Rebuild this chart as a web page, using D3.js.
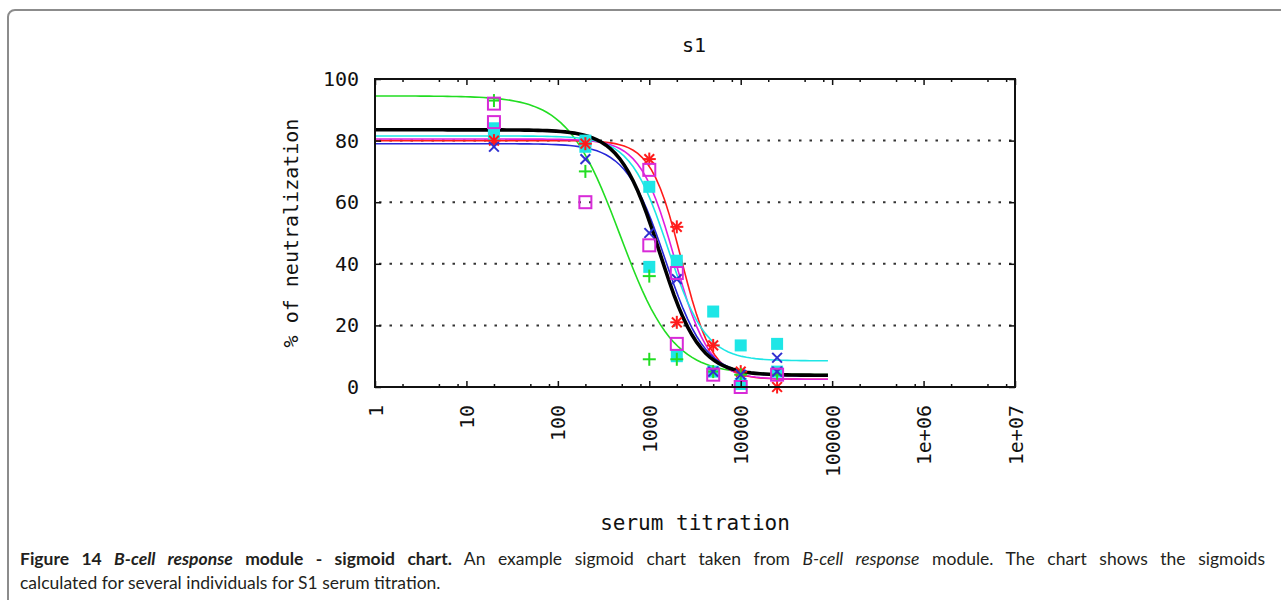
<!DOCTYPE html>
<html>
<head>
<meta charset="utf-8">
<script src="https://cdn.jsdelivr.net/npm/d3@7"></script>
<style>
  html, body { margin: 0; padding: 0; background: #fff; }
  svg { display: block; }
</style>
</head>
<body>
<svg id="chart" width="1281" height="600"></svg>
<script>
// Serum dilutions at which neutralization was measured
const titrations = [20, 200, 1000, 2000, 5000, 10000, 25000];

// Measured % neutralization per individual (two replicates where available)
const redPoints = [[20, 80], [200, 79], [1000, 74], [2000, 52], [2000, 21], [5000, 13.5], [10000, 5], [25000, 0]];
const greenPoints = [[20, 93], [200, 70], [1000, 36], [1000, 9], [2000, 9], [5000, 5], [10000, 4], [25000, 4]];
const bluePoints = [[20, 78], [200, 74], [1000, 50], [2000, 35], [5000, 5], [10000, 4], [25000, 9.5], [25000, 5]];
const magentaPoints = [[20, 92], [20, 86], [200, 60], [1000, 70.5], [1000, 46], [2000, 37], [2000, 14], [5000, 4], [10000, 0], [25000, 4]];
const cyanPoints = [[20, 84], [20, 82], [200, 80], [200, 78], [1000, 65], [1000, 39], [2000, 41], [2000, 10], [5000, 24.5], [5000, 5], [10000, 13.5], [10000, 1], [25000, 14], [25000, 5]];

// Fitted sigmoid parameters: [top, bottom, EC50, Hill slope]
const redFit = [80, 2.5, 2250, 2.6];
const greenFit = [94.5, 4, 480, 1.5];
const blueFit = [79, 3.5, 1500, 2.0];
const magentaFit = [80.5, 2.5, 1900, 2.3];
const cyanFit = [81.5, 8.5, 1600, 2.1];
const meanFit = [83.5, 3.8, 1300, 2.0];

// Axis ticks
const xTickValues = [1, 10, 100, 1000, 10000, 100000, 1e6, 1e7];
const xTickLabels = ["1", "10", "100", "1000", "10000", "100000", "1e+06", "1e+07"];
const yTickValues = [0, 20, 40, 60, 80, 100];
const yGridValues = [20, 40, 60, 80];

const svg = d3.select("#chart");
const monoFont = "'DejaVu Sans Mono', monospace";

// Outer figure frame
svg.append("rect")
  .attr("x", 8).attr("y", 10)
  .attr("width", 1320).attr("height", 640)
  .attr("rx", 7).attr("ry", 7)
  .attr("fill", "none")
  .attr("stroke", "#8c8c8c")
  .attr("stroke-width", 2);

const plot = { left: 375, right: 1015, top: 79, bottom: 387 };

const x = d3.scaleLog().domain([1, 1e7]).range([plot.left, plot.right]);
const y = d3.scaleLinear().domain([0, 100]).range([plot.bottom, plot.top]);

// Minor log ticks inside each decade
const minorTicks = [];
for (let d = 1; d < 1e7; d *= 10) {
  [2, 5, 8].forEach(m => minorTicks.push(d * m));
}

// Dotted horizontal grid
svg.append("g")
  .selectAll("line")
  .data(yGridValues)
  .join("line")
  .attr("x1", plot.left + 4).attr("x2", plot.right)
  .attr("y1", d => y(d)).attr("y2", d => y(d))
  .attr("stroke", "#333")
  .attr("stroke-width", 2)
  .attr("stroke-dasharray", "2.5,8");

// Sigmoid curves
function sigmoid(p) {
  const [top, bottom, ec50, hill] = p;
  return v => bottom + (top - bottom) / (1 + Math.pow(v / ec50, hill));
}
const curveX = d3.range(0, 101).map(i => Math.pow(10, i * Math.log10(90000) / 100));
const line = d3.line().x(d => x(d[0])).y(d => y(d[1]));

svg.append("clipPath").attr("id", "plotclip")
  .append("rect")
  .attr("x", plot.left - 4).attr("y", plot.top)
  .attr("width", plot.right - plot.left + 4).attr("height", plot.bottom - plot.top + 8);

const curves = [
  { fit: greenFit, color: "#22dd22", width: 1.6 },
  { fit: redFit, color: "#ff1a1a", width: 1.6 },
  { fit: magentaFit, color: "#e01ee0", width: 1.6 },
  { fit: cyanFit, color: "#1ee6e6", width: 1.6 },
  { fit: blueFit, color: "#2727d8", width: 1.6 },
];

const curveLayer = svg.append("g").attr("clip-path", "url(#plotclip)");
curves.forEach(c => {
  const f = sigmoid(c.fit);
  curveLayer.append("path")
    .attr("d", line(curveX.map(v => [v, f(v)])))
    .attr("fill", "none")
    .attr("stroke", c.color)
    .attr("stroke-width", c.width);
});

// Point markers
const ms = 6.5;
const markers = svg.append("g");
function drawPoints(data, color, kind) {
  const g = markers.append("g").attr("stroke", color).attr("stroke-width", 2).attr("fill", "none");
  data.forEach(([tv, pv]) => {
    const cx = x(tv), cy = y(pv);
    if (kind === "plus" || kind === "star") {
      g.append("line").attr("x1", cx - ms).attr("x2", cx + ms).attr("y1", cy).attr("y2", cy);
      g.append("line").attr("x1", cx).attr("x2", cx).attr("y1", cy - ms).attr("y2", cy + ms);
    }
    if (kind === "cross" || kind === "star") {
      const k = ms * 0.75;
      g.append("line").attr("x1", cx - k).attr("x2", cx + k).attr("y1", cy - k).attr("y2", cy + k);
      g.append("line").attr("x1", cx - k).attr("x2", cx + k).attr("y1", cy + k).attr("y2", cy - k);
    }
    if (kind === "box") {
      g.append("rect").attr("x", cx - 6).attr("y", cy - 6).attr("width", 12).attr("height", 12);
    }
    if (kind === "fbox") {
      g.append("rect").attr("x", cx - 6).attr("y", cy - 6).attr("width", 12).attr("height", 12)
        .attr("fill", color).attr("stroke", "none");
    }
  });
}
drawPoints(cyanPoints, "#1ee6e6", "fbox");
drawPoints(redPoints, "#ff1a1a", "star");
drawPoints(greenPoints, "#22dd22", "plus");
drawPoints(bluePoints, "#2f2fd0", "cross");
drawPoints(magentaPoints, "#d82ad8", "box");

// Mean sigmoid, drawn thick on top
const meanF = sigmoid(meanFit);
curveLayer.append("path")
  .attr("d", line(curveX.map(v => [v, meanF(v)])))
  .attr("fill", "none")
  .attr("stroke", "#000")
  .attr("stroke-width", 3.6);

// Plot border
svg.append("rect")
  .attr("x", plot.left).attr("y", plot.top)
  .attr("width", plot.right - plot.left).attr("height", plot.bottom - plot.top)
  .attr("fill", "none")
  .attr("stroke", "#111")
  .attr("stroke-width", 2);

// Axes with inward ticks
function styleAxis(g) {
  g.select(".domain").remove();
  g.selectAll(".tick line").attr("stroke", "#111").attr("stroke-width", 1.5);
}

const xBottom = svg.append("g")
  .attr("transform", `translate(0,${plot.bottom})`)
  .call(d3.axisBottom(x).tickValues(xTickValues).tickSize(-6)
    .tickFormat((d, i) => xTickLabels[i]))
  .call(styleAxis);
xBottom.selectAll(".tick text")
  .attr("font-family", monoFont)
  .attr("font-size", 20)
  .attr("fill", "#111")
  .attr("text-anchor", "end")
  .attr("x", 0).attr("y", 0)
  .attr("dy", "0.35em")
  .attr("transform", "translate(0,18) rotate(-90)");

svg.append("g")
  .attr("transform", `translate(0,${plot.bottom})`)
  .call(d3.axisBottom(x).tickValues(minorTicks).tickSize(-3).tickFormat(""))
  .call(styleAxis);

svg.append("g")
  .attr("transform", `translate(0,${plot.top})`)
  .call(d3.axisTop(x).tickValues(xTickValues).tickSize(-6).tickFormat(""))
  .call(styleAxis);
svg.append("g")
  .attr("transform", `translate(0,${plot.top})`)
  .call(d3.axisTop(x).tickValues(minorTicks).tickSize(-3).tickFormat(""))
  .call(styleAxis);

const yLeft = svg.append("g")
  .attr("transform", `translate(${plot.left},0)`)
  .call(d3.axisLeft(y).tickValues(yTickValues).tickSize(-6).tickPadding(16))
  .call(styleAxis);
yLeft.selectAll(".tick text")
  .attr("font-family", monoFont)
  .attr("font-size", 20)
  .attr("fill", "#111");

svg.append("g")
  .attr("transform", `translate(${plot.right},0)`)
  .call(d3.axisRight(y).tickValues(yTickValues).tickSize(-6).tickFormat(""))
  .call(styleAxis);

// Titles
svg.append("text")
  .attr("x", 694).attr("y", 52)
  .attr("text-anchor", "middle")
  .attr("font-family", monoFont).attr("font-size", 20).attr("fill", "#111")
  .text("s1");

svg.append("text")
  .attr("transform", "translate(291,233) rotate(-90)")
  .attr("text-anchor", "middle")
  .attr("dy", "0.35em")
  .attr("font-family", monoFont).attr("font-size", 20).attr("fill", "#111")
  .text("% of neutralization");

svg.append("text")
  .attr("x", 695).attr("y", 530)
  .attr("text-anchor", "middle")
  .attr("font-family", monoFont).attr("font-size", 21).attr("fill", "#111")
  .text("serum titration");

// Figure caption (first line justified to the column width)
const capFont = "Lato, 'Open Sans', sans-serif";
const capSize = 17.5;
const capLeft = 20, capRight = 1265;
const cap1 = svg.append("text")
  .attr("x", capLeft).attr("y", 565)
  .attr("font-family", capFont).attr("font-size", capSize).attr("fill", "#231f20");
cap1.append("tspan").attr("font-weight", "bold").text("Figure 14 ");
cap1.append("tspan").attr("font-weight", "bold").attr("font-style", "italic").text("B-cell response");
cap1.append("tspan").attr("font-weight", "bold").text(" module - sigmoid chart.");
cap1.append("tspan").text(" An example sigmoid chart taken from ");
cap1.append("tspan").attr("font-style", "italic").text("B-cell response");
cap1.append("tspan").text(" module. The chart shows the sigmoids");

const natural = cap1.node().getComputedTextLength();
const spaces = (cap1.text().match(/ /g) || []).length;
if (spaces > 0 && natural < capRight - capLeft) {
  cap1.attr("word-spacing", (capRight - capLeft - natural) / spaces);
}

svg.append("text")
  .attr("x", capLeft).attr("y", 589)
  .attr("font-family", capFont).attr("font-size", capSize).attr("fill", "#231f20")
  .text("calculated for several individuals for S1 serum titration.");
</script>
</body>
</html>
